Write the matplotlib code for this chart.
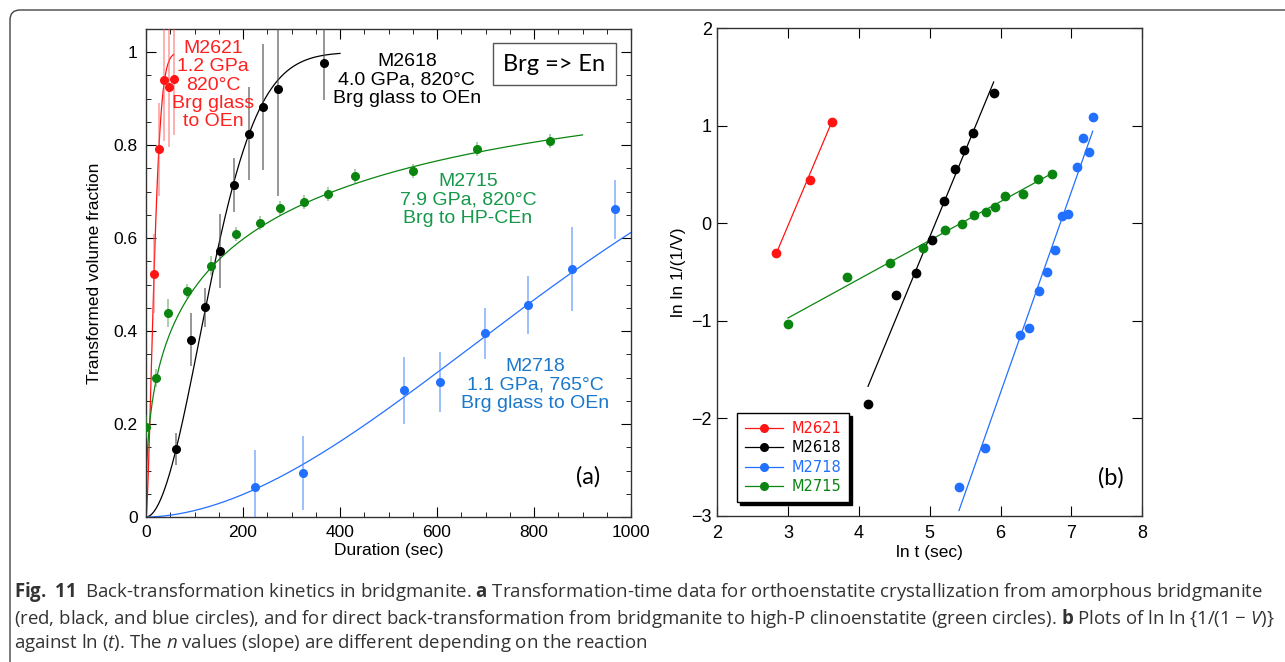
import numpy as np
import matplotlib
matplotlib.use('Agg')
import matplotlib.pyplot as plt
import matplotlib.ticker as mticker
from matplotlib.patches import PathPatch
from matplotlib.path import Path
from matplotlib.transforms import IdentityTransform

plt.rcParams['font.family'] = ['Liberation Sans', 'DejaVu Sans']
plt.rcParams['mathtext.fontset'] = 'custom'
plt.rcParams['mathtext.rm'] = 'Open Sans'
plt.rcParams['mathtext.it'] = 'Open Sans:italic'
plt.rcParams['mathtext.bf'] = 'Open Sans:bold'

# ---- panel (a): transformed fraction vs duration ----
red_t = [16.5, 27, 36.5, 47, 57]
red_v = [0.523, 0.791, 0.940, 0.926, 0.942]
red_err = [0.085, 0.10, 0.13, 0.13, 0.12]

black_t = [62, 92, 122, 153, 182, 212, 242, 273, 368]
black_v = [0.146, 0.381, 0.451, 0.573, 0.715, 0.825, 0.882, 0.920, 0.977]
black_err = [0.035, 0.057, 0.042, 0.08, 0.058, 0.10, 0.135, 0.23, 0.08]

green_t = [1, 21, 46, 85, 134, 185, 235, 276, 326, 375, 431, 551, 683, 832]
green_v = [0.194, 0.299, 0.438, 0.487, 0.541, 0.609, 0.632, 0.664, 0.677,
           0.695, 0.734, 0.744, 0.792, 0.809]
green_err = [0.025, 0.02, 0.03, 0.015, 0.02, 0.015, 0.015, 0.015, 0.015,
             0.015, 0.015, 0.015, 0.015, 0.015]

blue_t = [225, 324, 532, 607, 699, 787, 878, 968]
blue_v = [0.065, 0.095, 0.273, 0.290, 0.395, 0.456, 0.533, 0.662]
blue_err = [0.08, 0.08, 0.072, 0.065, 0.055, 0.062, 0.09, 0.063]

# Avrami fits V = 1 - exp(-(t/tau)^n)
fit_tau = {'M2621': 20, 'M2618': 160, 'M2715': 249, 'M2718': 1030}
fit_n = {'M2621': 1.6, 'M2618': 1.95, 'M2715': 0.425, 'M2718': 1.83}
fit_tmax = {'M2621': 57, 'M2618': 400, 'M2715': 900, 'M2718': 1000}

# ---- panel (b): ln ln 1/(1-V) vs ln t ----
b_red_x = [2.833, 3.304, 3.615]
b_red_y = [-0.308, 0.445, 1.037]
b_black_x = [4.128, 4.523, 4.805, 5.027, 5.201, 5.356, 5.487, 5.606, 5.902]
b_black_y = [-1.855, -0.736, -0.507, -0.168, 0.226, 0.558, 0.756, 0.924, 1.335]
b_blue_x = [5.412, 5.780, 6.269, 6.401, 6.542, 6.659, 6.772, 6.871, 6.956,
            7.078, 7.167, 7.243, 7.308]
b_blue_y = [-2.710, -2.307, -1.143, -1.075, -0.695, -0.496, -0.270, 0.075,
            0.095, 0.575, 0.876, 0.726, 1.095]
b_green_x = [2.998, 3.831, 4.442, 4.904, 5.219, 5.459, 5.620, 5.794, 5.925,
             6.066, 6.311, 6.523, 6.721]
b_green_y = [-1.034, -0.554, -0.407, -0.257, -0.069, -0.003, 0.089, 0.12,
             0.164, 0.277, 0.305, 0.449, 0.503]

# linear fits in (b): slope, intercept, x range
b_fit = {'M2621': (1.72, -5.181, 2.833, 3.615),
         'M2618': (1.76, -8.938, 4.128, 5.902),
         'M2718': (2.061, -14.101, 5.412, 7.300),
         'M2715': (0.398, -2.165, 2.998, 6.721)}

col = {'M2621': '#ff1414', 'M2618': '#000000', 'M2718': '#2270ff', 'M2715': '#0a850f'}
ecol = {'M2621': (1, 0.35, 0.35, 0.6), 'M2618': (0.3, 0.3, 0.3, 0.75),
        'M2718': (0.3, 0.55, 1, 0.7), 'M2715': (0.3, 0.6, 0.3, 0.6)}
txtcol = {'M2621': '#ff2020', 'M2618': '#000000', 'M2718': '#1a78cc', 'M2715': '#15984a'}

fig = plt.figure(figsize=(12.85, 6.62), dpi=100)
W, H = 1285, 662
ax1 = fig.add_axes([146 / W, 1 - 517 / H, 485 / W, 488 / H])
ax2 = fig.add_axes([717.3 / W, 1 - 515.7 / H, 425 / W, 487.4 / H])

series_a = {'M2621': (red_t, red_v, red_err),
            'M2618': (black_t, black_v, black_err),
            'M2715': (green_t, green_v, green_err),
            'M2718': (blue_t, blue_v, blue_err)}

for name, (t, v, e) in series_a.items():
    tt = np.linspace(0, fit_tmax[name], 500)
    ax1.plot(tt, 1 - np.exp(-(tt / fit_tau[name]) ** fit_n[name]),
             color=col[name], lw=0.9, zorder=2)
    ax1.errorbar(t, v, yerr=e, fmt='o', ms=5.5, color=col[name],
                 ecolor=ecol[name], elinewidth=1.1, capsize=0, zorder=3)

ax1.set_xlim(0, 1000)
ax1.set_ylim(0, 1.05)
ax1.xaxis.set_major_locator(mticker.MultipleLocator(200))
ax1.xaxis.set_minor_locator(mticker.MultipleLocator(50))
ax1.yaxis.set_major_locator(mticker.MultipleLocator(0.2))
ax1.yaxis.set_minor_locator(mticker.MultipleLocator(0.05))
ax1.yaxis.set_major_formatter(mticker.FuncFormatter(lambda v, p: '%g' % round(v, 2)))
ax1.tick_params(which='both', direction='in', top=True, right=True, labelsize=12.5)
ax1.tick_params(which='major', length=7, pad=6)
ax1.tick_params(which='minor', length=3.5)
ax1.set_xlabel('Duration (sec)', fontsize=12.5, labelpad=2)
ax1.set_ylabel('Transformed volume fraction', fontsize=12.5, labelpad=8)

ann = {'M2621': (138, 0.929, 'M2621\n1.2 GPa\n820°C\nBrg glass\nto OEn'),
       'M2618': (538, 0.94, 'M2618\n4.0 GPa, 820°C\nBrg glass to OEn'),
       'M2715': (664, 0.682, 'M2715\n7.9 GPa, 820°C\nBrg to HP-CEn'),
       'M2718': (803, 0.284, 'M2718\n1.1 GPa, 765°C\nBrg glass to OEn')}
for name, (x, y, s) in ann.items():
    ax1.text(x, y, s, color=txtcol[name], fontsize=14, ha='center', va='center',
             linespacing=1.1)

ax1.text(842, 0.974, 'Brg => En', fontsize=17, family='Lato', ha='center', va='center',
         bbox=dict(boxstyle='square,pad=0.45', fc='white', ec='#555555', lw=1))
ax1.text(0.911, 0.082, '(a)', transform=ax1.transAxes, fontsize=17, family='Lato',
         ha='center', va='center')

series_b = {'M2621': (b_red_x, b_red_y), 'M2618': (b_black_x, b_black_y),
            'M2718': (b_blue_x, b_blue_y), 'M2715': (b_green_x, b_green_y)}
handles = []
for name, (x, y) in series_b.items():
    s, c, x0, x1 = b_fit[name]
    xx = np.array([x0, x1])
    ax2.plot(xx, s * xx + c, color=col[name], lw=0.9, zorder=2)
    ax2.plot(x, y, 'o', ms=6, color=col[name], zorder=3)
    h, = ax2.plot([], [], '-o', ms=5.5, lw=0.9, color=col[name], label=name)
    handles.append(h)

ax2.set_xlim(2, 8)
ax2.set_ylim(-3, 2)
ax2.xaxis.set_major_locator(mticker.MultipleLocator(1))
ax2.yaxis.set_major_locator(mticker.MultipleLocator(1))
ax2.tick_params(direction='in', top=True, right=True, length=7, labelsize=13)
ax2.tick_params(axis='x', pad=7)
ax2.tick_params(axis='y', pad=4)
ax2.set_xlabel('ln t (sec)', fontsize=12.5, labelpad=2)
ax2.set_ylabel('ln ln 1/(1/V)', fontsize=12.5, labelpad=4)
ax2.text(0.926, 0.077, '(b)', transform=ax2.transAxes, fontsize=17, family='Lato',
         ha='center', va='center')

leg = ax2.legend(handles=handles, loc='lower left', bbox_to_anchor=(0.046, 0.028),
                 borderaxespad=0, prop={'family': 'DejaVu Sans', 'size': 10.5},
                 frameon=True, fancybox=False, edgecolor='black', framealpha=1,
                 handlelength=2.6, handletextpad=0.6, labelspacing=0.3, borderpad=0.55,
                 shadow={'color': 'black', 'alpha': 1})
leg.get_frame().set_linewidth(1)
for txt, name in zip(leg.get_texts(), series_b):
    txt.set_color(col[name])

for ax in (ax1, ax2):
    for sp in ax.spines.values():
        sp.set_color('#333333')
        sp.set_linewidth(1)

# figure frame: top and left edges with a rounded corner (pixel coords, y up)
r = 10
verts = [(W + 5, H - 10), (10 + r, H - 10), (10, H - 10), (10, H - 10 - r), (10, -5)]
codes = [Path.MOVETO, Path.LINETO, Path.CURVE3, Path.CURVE3, Path.LINETO]
fig.patches.append(PathPatch(Path(verts, codes), transform=IdentityTransform(),
                             fill=False, ec='#444444', lw=1))

cap_kw = dict(fontsize=13.4, family='Open Sans', color='#333333', va='center', ha='left')
fig.text(14 / W, 1 - 592 / H,
         r'$\mathbf{Fig.\ 11}$  Back-transformation kinetics in bridgmanite. $\mathbf{a}$ '
         'Transformation-time data for orthoenstatite crystallization from amorphous bridgmanite',
         **cap_kw)
fig.text(14 / W, 1 - 618 / H,
         '(red, black, and blue circles), and for direct back-transformation from bridgmanite '
         r'to high-P clinoenstatite (green circles). $\mathbf{b}$ Plots of ln ln {1/(1 $-$ $\mathit{V}$)}',
         **cap_kw)
fig.text(14 / W, 1 - 643 / H,
         r'against ln ($\mathit{t}$). The $\mathit{n}$ values (slope) are different depending on the reaction',
         **cap_kw)

fig.savefig('out.png', dpi=100)
